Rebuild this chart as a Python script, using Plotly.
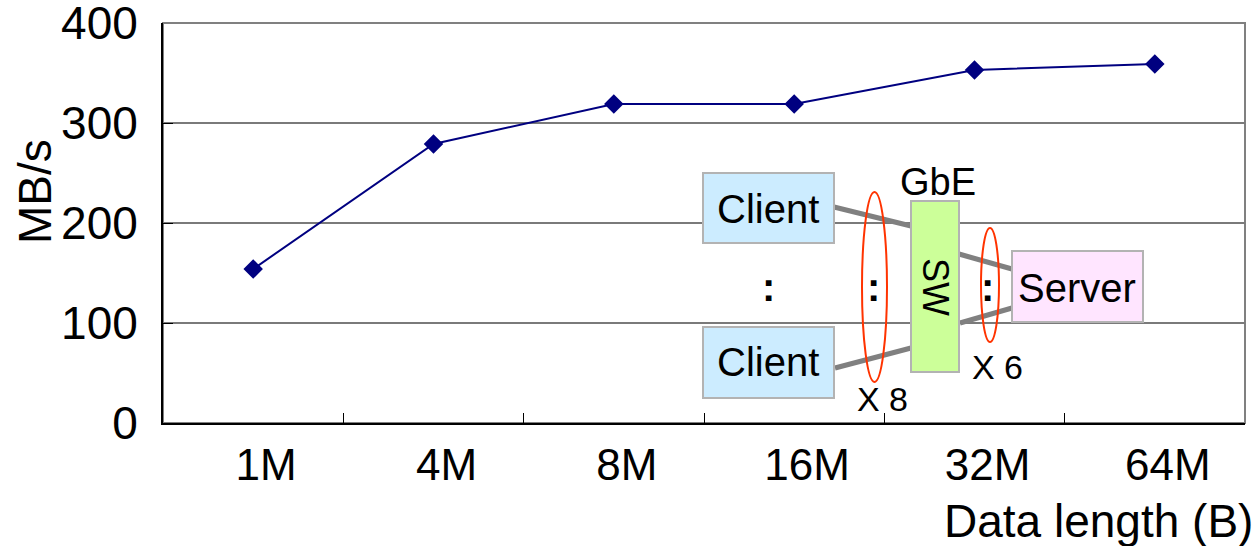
import plotly.graph_objects as go

# Throughput measured for each data length
sizes = ["1M", "4M", "8M", "16M", "32M", "64M"]
throughput = [154, 279, 319, 319, 353, 359]

y_ticks = [0, 100, 200, 300, 400]

W, H = 1258, 546
L, R, T, B = 163, 13, 23, 123
PW, PH = W - L - R, H - T - B

FONT = "Liberation Sans"


def px(x):
    """Pixel column -> paper x."""
    return (x - L) / PW


def py(y):
    """Pixel row -> paper y."""
    return (H - B - y) / PH


fig = go.Figure(
    go.Scatter(
        x=sizes,
        y=throughput,
        mode="lines+markers",
        line=dict(color="#000080", width=2),
        marker=dict(symbol="diamond", size=15, color="#000080"),
        showlegend=False,
    )
)

shapes = []
annotations = []

# frame around the plotting area (gray on top / right)
shapes.append(dict(type="rect", xref="paper", yref="paper", x0=0, x1=1, y0=0, y1=1,
                   line=dict(color="#808080", width=2), layer="below"))


def box(x0, y0, x1, y1, fill):
    shapes.append(dict(type="rect", xref="paper", yref="paper",
                       x0=px(x0), x1=px(x1), y0=py(y1), y1=py(y0),
                       fillcolor=fill, line=dict(color="#b3b3b3", width=2), layer="above"))


def wire(x0, y0, x1, y1):
    shapes.append(dict(type="line", xref="paper", yref="paper",
                       x0=px(x0), x1=px(x1), y0=py(y0), y1=py(y1),
                       line=dict(color="#808080", width=5), layer="above"))


def ring(x0, y0, x1, y1):
    shapes.append(dict(type="circle", xref="paper", yref="paper",
                       x0=px(x0), x1=px(x1), y0=py(y1), y1=py(y0),
                       line=dict(color="#ff3300", width=2), layer="above"))


def label(x, y, text, size=40, angle=0, xanchor="center"):
    annotations.append(dict(xref="paper", yref="paper", x=px(x), y=py(y), text=text,
                            showarrow=False, textangle=angle, xanchor=xanchor,
                            yanchor="middle", font=dict(family=FONT, size=size, color="black")))


# network diagram: clients -> GbE switch -> server
wire(834, 207, 911, 226)
wire(835, 368, 911, 348)
wire(959, 254, 1012, 269)
wire(960, 323, 1012, 308)
box(703, 173, 834, 243, "#ccecff")
box(703, 327, 834, 398, "#ccecff")
box(911, 201, 959, 372, "#ccff99")
box(1012, 251, 1143, 322, "#ffe5ff")
ring(862, 192, 887, 382)
ring(981, 228, 999, 342)

label(768, 209, "Client")
label(768, 362, "Client")
label(1077, 288, "Server")
label(935, 287, "SW", size=36, angle=90)
label(938, 182, "GbE", size=38)
label(768, 287, "<b>:</b>")
label(873, 287, "<b>:</b>")
label(987, 287, "<b>:</b>")
label(882, 399, "X 8", size=34)
label(997, 367, "X 6", size=34)

# axis titles
label(1255, 521, "Data length (B)", size=46, xanchor="right")
label(35, 192, "MB/s", size=46, angle=-90)

fig.update_layout(
    width=W,
    height=H,
    margin=dict(l=L, r=R, t=T, b=B),
    paper_bgcolor="white",
    plot_bgcolor="white",
    font=dict(family=FONT, color="black"),
    shapes=shapes,
    annotations=annotations,
)

fig.update_xaxes(
    type="category",
    range=[-0.5, 5.5],
    tickson="boundaries",
    ticks="inside",
    ticklen=10,
    tickwidth=1,
    tickcolor="black",
    showline=True,
    linecolor="black",
    linewidth=2,
    showgrid=False,
    tickfont=dict(family=FONT, size=44),
    ticklabelstandoff=2,
    ticklabelshift=13,
    ticklabeloverflow="allow",
    automargin=False,
    fixedrange=True,
)

fig.update_yaxes(
    range=[0, 400],
    tickvals=y_ticks,
    ticks="inside",
    ticklen=10,
    tickwidth=1,
    tickcolor="black",
    showline=True,
    linecolor="black",
    linewidth=2,
    showgrid=True,
    gridcolor="#7a7a7a",
    gridwidth=1.5,
    zeroline=False,
    tickfont=dict(family=FONT, size=46),
    ticklabelstandoff=14,
    ticklabeloverflow="allow",
    automargin=False,
    fixedrange=True,
)

fig.write_html("out.html", config=dict(displayModeBar=False))
